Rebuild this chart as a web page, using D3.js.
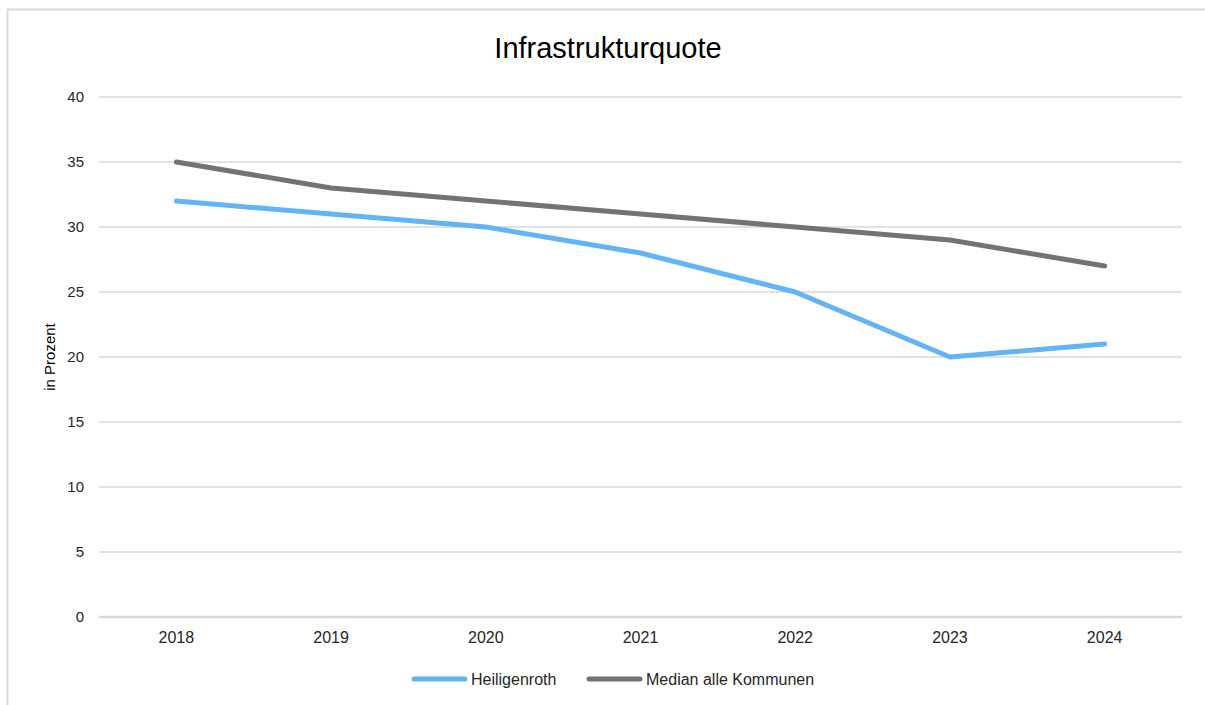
<!DOCTYPE html>
<html>
<head>
<meta charset="utf-8">
<script src="https://cdn.jsdelivr.net/npm/d3@7"></script>
<style>
  body { margin: 0; background: #fff; }
  svg { font-family: "Liberation Sans", Arial, sans-serif; }
</style>
</head>
<body>
<svg id="chart" width="1205" height="705"></svg>
<script>
var years = ["2018", "2019", "2020", "2021", "2022", "2023", "2024"];
var heiligenroth = [32, 31, 30, 28, 25, 20, 21];
var median = [35, 33, 32, 31, 30, 29, 27];
var yTicks = [0, 5, 10, 15, 20, 25, 30, 35, 40];
var seriesNames = ["Heiligenroth", "Median alle Kommunen"];
var seriesColors = ["#63b4f4", "#737373"];

var svg = d3.select("#chart");

// frame
svg.append("rect")
    .attr("x", 7.5).attr("y", 9.5)
    .attr("width", 1210).attr("height", 710)
    .attr("fill", "#fff")
    .attr("stroke", "#d9d9d9")
    .attr("stroke-width", 2);

var margin = {left: 99, right: 1182, top: 97, bottom: 617};

var x = d3.scaleBand().domain(years).range([margin.left, margin.right]);
var y = d3.scaleLinear().domain([0, 40]).range([margin.bottom, margin.top]);

// gridlines
svg.append("g").selectAll("line")
    .data(yTicks)
    .enter().append("line")
    .attr("x1", margin.left).attr("x2", margin.right)
    .attr("y1", d => y(d)).attr("y2", d => y(d))
    .attr("stroke", "#d9d9d9")
    .attr("stroke-width", d => d == 0 ? 2.5 : 1.5);

// y labels
svg.append("g").selectAll("text")
    .data(yTicks)
    .enter().append("text")
    .attr("x", 84).attr("y", d => y(d))
    .attr("dy", "0.35em")
    .attr("text-anchor", "end")
    .attr("font-size", 15)
    .attr("fill", "#262626")
    .text(d => d);

// x labels
svg.append("g").selectAll("text")
    .data(years)
    .enter().append("text")
    .attr("x", d => x(d) + x.bandwidth() / 2)
    .attr("y", 643)
    .attr("text-anchor", "middle")
    .attr("font-size", 16)
    .attr("fill", "#262626")
    .text(d => d);

svg.append("text")
    .attr("x", 608).attr("y", 58)
    .attr("text-anchor", "middle")
    .attr("font-size", 29)
    .attr("fill", "#000")
    .text("Infrastrukturquote");

svg.append("text")
    .attr("transform", "translate(55, 357) rotate(-90)")
    .attr("text-anchor", "middle")
    .attr("font-size", 15)
    .attr("fill", "#000")
    .text("in Prozent");

var line = d3.line()
    .x((d, i) => x(years[i]) + x.bandwidth() / 2)
    .y(d => y(d));

[heiligenroth, median].forEach((s, i) => {
    svg.append("path")
        .datum(s)
        .attr("d", line)
        .attr("fill", "none")
        .attr("stroke", seriesColors[i])
        .attr("stroke-width", 5)
        .attr("stroke-linecap", "round")
        .attr("stroke-linejoin", "round");
});

// legend
var legendX = [414, 589];
seriesNames.forEach((n, i) => {
    svg.append("line")
        .attr("x1", legendX[i]).attr("x2", legendX[i] + 51)
        .attr("y1", 679).attr("y2", 679)
        .attr("stroke", seriesColors[i])
        .attr("stroke-width", 5)
        .attr("stroke-linecap", "round");
    svg.append("text")
        .attr("x", legendX[i] + 57).attr("y", 679)
        .attr("dy", "0.35em")
        .attr("font-size", 16)
        .attr("fill", "#262626")
        .text(n);
});
</script>
</body>
</html>
